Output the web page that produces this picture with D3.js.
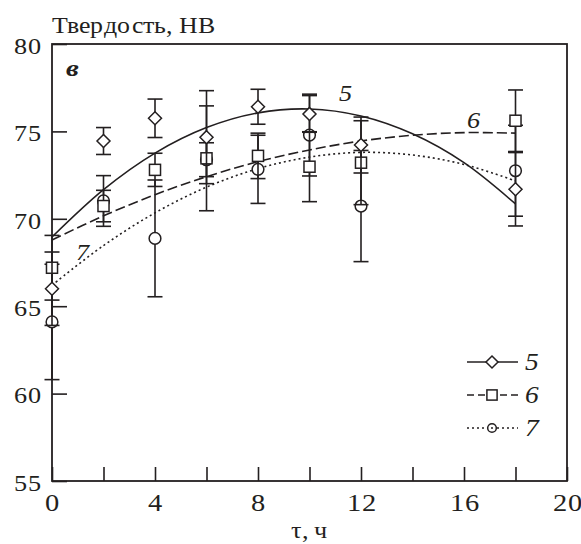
<!DOCTYPE html>
<html><head><meta charset="utf-8">
<script src="https://cdn.jsdelivr.net/npm/d3@7"></script>
<style>
@font-face{font-family:"RefSerif";src:local("Liberation Serif"),local("LiberationSerif"),local("Times New Roman");font-style:normal;font-weight:400;}
@font-face{font-family:"RefSerif";src:local("Liberation Serif Italic"),local("LiberationSerif-Italic");font-style:italic;font-weight:400;}
@font-face{font-family:"RefSerif";src:local("Liberation Serif Bold Italic"),local("LiberationSerif-BoldItalic");font-style:italic;font-weight:700;}
</style>
</head><body style="margin:0">
<script>
// ---- data ----
const hours = [0, 2, 4, 6, 8, 10, 12, 18];
const hb5 = [66.0, 74.45, 75.75, 74.67, 76.41, 76.0, 74.22, 71.69];
const err5 = [2.1, 0.77, 1.1, 2.66, 1.0, 1.05, 1.6, 2.1];
const hb6 = [67.2, 70.73, 72.8, 73.46, 73.6, 72.98, 73.21, 75.61];
const err6 = [1.85, 0.9, 0.95, 3.0, 1.3, 2.0, 2.4, 1.76];
const hb7 = [64.1, 71.02, 68.88, 73.38, 72.83, 74.79, 70.73, 72.75];
const err7 = [3.3, 1.45, 3.34, 0.97, 1.95, 2.34, 3.18, 2.6];
// trend curves
const curveX = [0, 2, 4, 6, 8, 10, 12, 14, 16, 18];
const fit5 = [68.96, 71.67, 73.76, 75.22, 76.06, 76.28, 75.88, 74.86, 73.21, 70.85];
const fit6 = [68.79, 70.17, 71.38, 72.41, 73.27, 73.94, 74.45, 74.78, 74.93, 74.90];
const fit7 = [66.2, 68.47, 70.34, 71.81, 72.87, 73.53, 73.8, 73.65, 73.11, 72.17];
const xTicks = [0, 2, 4, 6, 8, 10, 12, 14, 16, 18, 20];
const xLabels = [0, 4, 8, 12, 16, 20];
const yTicks = [55, 60, 65, 70, 75, 80];
const seriesNames = ["5", "6", "7"];
const yTitle = "Твердость, НВ";
const xTitle = "τ, ч";
const panelLabel = "в";

const W = 581, H = 544;
const FAM = 'RefSerif, "Liberation Serif", "Times New Roman"';
const SX = 1.14;
const ink = "#231f20";
const svg = d3.select("body").append("svg").attr("width", W).attr("height", H)
  .style("display", "block").style("font-family", FAM);
const x = d3.scaleLinear().domain([0, 20]).range([52, 567]);
const y = d3.scaleLinear().domain([55, 80]).range([481, 44]);

function stext(g, tx, ty, str, size, anchor, style, weight) {
  const t = g.append("text")
    .attr("transform", `translate(${tx},${ty}) scale(${SX},1)`)
    .style("font-family", FAM).attr("font-size", size)
    .attr("fill", ink).text(str);
  if (anchor) t.attr("text-anchor", anchor);
  if (style) t.style("font-style", style);
  if (weight) t.style("font-weight", weight);
  return t;
}

// axes
const gx = svg.append("g").attr("transform", `translate(0,${y(55)})`)
  .call(d3.axisBottom(x).tickValues(xTicks).tickSizeInner(-14).tickSizeOuter(0)
    .tickFormat(d => xLabels.includes(d) ? d : ""));
gx.select(".domain").remove();
gx.attr("font-family", null).attr("font-size", 25);
gx.selectAll(".tick line").attr("stroke", ink).attr("stroke-width", 1.6);
gx.selectAll(".tick text").style("font-family", FAM).attr("font-size", 25).attr("fill", ink)
  .attr("y", 30).attr("dy", 0).attr("transform", `scale(${SX},1)`);

const gy = svg.append("g").attr("transform", `translate(${x(0)},0)`)
  .call(d3.axisLeft(y).tickValues(yTicks).tickSizeInner(-15).tickSizeOuter(0));
gy.select(".domain").remove();
gy.attr("font-family", null).attr("font-size", 23);
gy.selectAll(".tick line").attr("stroke", ink).attr("stroke-width", 1.6);
gy.selectAll(".tick text").style("font-family", FAM).attr("font-size", 23).attr("fill", ink)
  .attr("x", -9).attr("dy", "0.4em").attr("transform", `scale(${SX},1)`);

svg.append("rect").attr("x", x(0)).attr("y", y(80)).attr("width", x(20) - x(0)).attr("height", y(55) - y(80))
  .attr("fill", "none").attr("stroke", ink).attr("stroke-width", 1.8);

// curves
const line = d3.line().x((d, i) => x(curveX[i])).y(d => y(d)).curve(d3.curveCatmullRom);
const curves = [[fit5, null], [fit6, "10,4"], [fit7, "2,3"]];
curves.forEach(([vals, dash]) => {
  svg.append("path").datum(vals).attr("d", line).attr("fill", "none")
    .attr("stroke", ink).attr("stroke-width", 1.6)
    .attr("stroke-dasharray", dash);
});

// symbols
function drawMarker(g, type, cx, cy, s) {
  if (type === "diamond") {
    g.append("path").attr("d", `M${cx},${cy - s}L${cx + s},${cy}L${cx},${cy + s}L${cx - s},${cy}Z`)
      .attr("fill", "#fff").attr("stroke", ink).attr("stroke-width", 1.5);
  } else if (type === "square") {
    g.append("rect").attr("x", cx - s * 0.85).attr("y", cy - s * 0.85).attr("width", s * 1.7).attr("height", s * 1.7)
      .attr("fill", "#fff").attr("stroke", ink).attr("stroke-width", 1.5);
  } else {
    g.append("circle").attr("cx", cx).attr("cy", cy).attr("r", s * 0.9)
      .attr("fill", "#fff").attr("stroke", ink).attr("stroke-width", 1.5);
  }
}
const series = [
  { vals: hb7, errs: err7, type: "circle" },
  { vals: hb6, errs: err6, type: "square" },
  { vals: hb5, errs: err5, type: "diamond" }
];
series.forEach(s => {
  const g = svg.append("g");
  hours.forEach((h, i) => {
    const cx = x(h), lo = y(s.vals[i] - s.errs[i]), hi = y(s.vals[i] + s.errs[i]);
    g.append("line").attr("x1", cx).attr("x2", cx).attr("y1", lo).attr("y2", hi)
      .attr("stroke", ink).attr("stroke-width", 1.6);
    [lo, hi].forEach(yy => g.append("line").attr("x1", cx - 7.5).attr("x2", cx + 7.5)
      .attr("y1", yy).attr("y2", yy).attr("stroke", ink).attr("stroke-width", 1.6));
  });
  hours.forEach((h, i) => drawMarker(g, s.type, x(h), y(s.vals[i]), 6.5));
});

// curve labels
stext(svg, x(11.4), y(77.2) + 8, "5", 23, "middle", "italic");
stext(svg, x(16.4), y(75.65) + 8, "6", 23, "middle", "italic");
stext(svg, x(1.2), y(68.1) + 8, "7", 23, "middle", "italic");

// panel label
stext(svg, 66, 76, panelLabel, 25, "start", "italic", "bold");

// titles
svg.append("text").attr("x", 52).attr("y", 33).style("font-family", FAM).attr("font-size", 23)
  .attr("fill", ink).attr("textLength", 163).attr("lengthAdjust", "spacingAndGlyphs").text(yTitle);
stext(svg, x(10), 538, xTitle, 23, "middle");

// legend
const legY = [362, 395, 428];
const legDash = [null, "7,4", "2,3"];
const legType = ["diamond", "square", "circle"];
seriesNames.forEach((n, i) => {
  const g = svg.append("g");
  g.append("line").attr("x1", 467).attr("x2", 518).attr("y1", legY[i]).attr("y2", legY[i])
    .attr("stroke", ink).attr("stroke-width", 1.4).attr("stroke-dasharray", legDash[i]);
  if (i === 2) {
    drawMarker(g, "circle", 492, legY[i], 4.8);
    g.append("circle").attr("cx", 492).attr("cy", legY[i]).attr("r", 1).attr("fill", ink);
  } else {
    drawMarker(g, legType[i], 492, legY[i], 6);
  }
  stext(g, 525, legY[i] + 8, n, 24, "start", "italic");
});
</script>
</body></html>
